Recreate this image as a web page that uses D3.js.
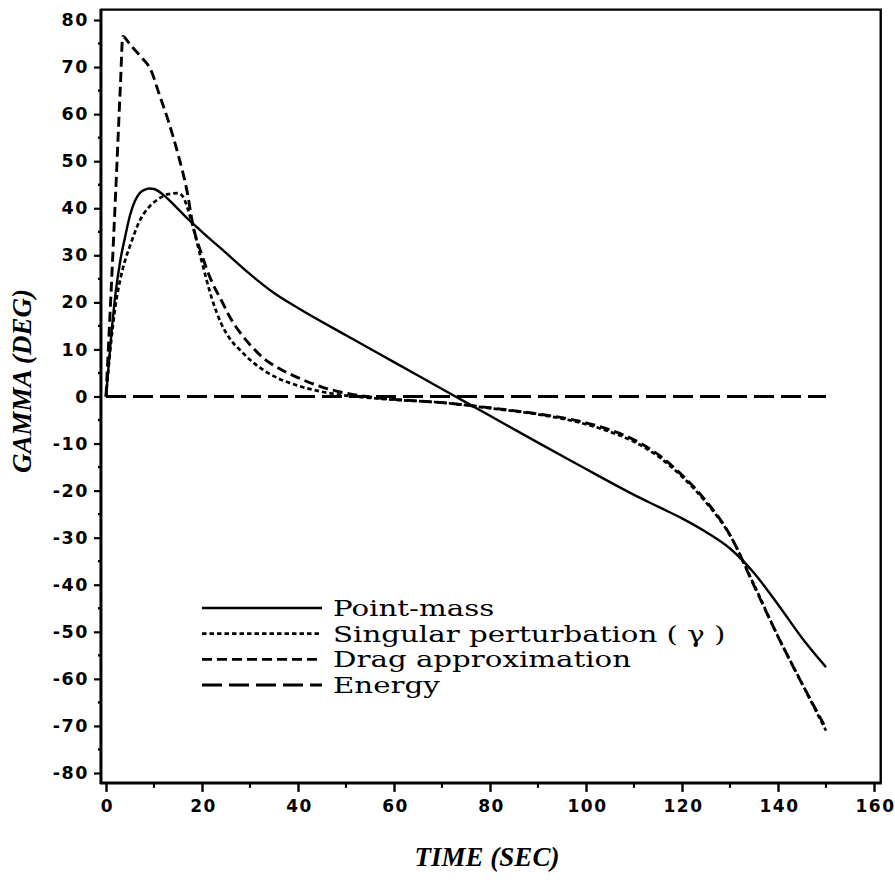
<!DOCTYPE html>
<html>
<head>
<meta charset="utf-8">
<script src="https://cdn.jsdelivr.net/npm/d3@7"></script>
<style>
  html, body { margin: 0; padding: 0; background: #fff; }
  svg { display: block; }
</style>
</head>
<body>
<svg id="chart" width="895" height="886"></svg>
<script>
// Flight-path angle histories, time in seconds, gamma in degrees
const pointMassT = [0, 1, 2, 3, 4, 5, 6, 7, 8, 9, 10, 12, 14, 17, 20, 25, 30, 35, 40, 50, 60, 70, 80, 90, 100, 105, 110, 115, 120, 125, 130, 135, 140, 145, 150];
const pointMassG = [0, 12, 22, 29, 34, 38.5, 41.5, 43.2, 43.9, 44.2, 44.1, 42.8, 40.9, 37.8, 35, 30.5, 26, 22, 18.8, 13, 7.3, 1.6, -4.1, -9.8, -15.4, -18.2, -20.9, -23.4, -25.9, -28.8, -32.3, -37.5, -44.2, -51.3, -57.5];

const singularT = [0, 1, 2, 3, 4, 5, 7, 9, 11, 13, 15, 16, 17, 18, 20, 22, 24, 26, 28, 30, 33, 36, 40, 45, 50, 55, 60, 70, 80, 90, 95, 100, 105, 110, 115, 120, 125, 130, 135, 140, 145, 150];
const singularG = [0, 11, 19.5, 25, 29, 32, 37.3, 40.3, 42, 43, 43.2, 42.5, 40, 36.5, 28.5, 21, 15.5, 12, 9.8, 7.8, 5.5, 3.8, 2.3, 1.0, 0.2, -0.3, -0.7, -1.3, -2.5, -3.8, -4.7, -5.9, -7.5, -9.6, -12.7, -17, -22.5, -29.5, -40, -51, -61, -71];

const dragT = [0, 1, 2, 3, 3.5, 5, 7, 9.5, 11, 13, 15, 17, 18, 20, 22, 24, 26, 28, 30, 33, 36, 40, 45, 50, 55, 60, 70, 80, 90, 95, 100, 105, 110, 115, 120, 125, 130, 135, 140, 145, 150];
const dragG = [0, 21, 43, 66, 76.5, 74.8, 72.5, 69, 64.5, 58.5, 51.5, 43, 37, 30, 24.5, 20.5, 16.5, 13.5, 11, 8, 6, 4, 2, 0.7, -0.1, -0.6, -1.3, -2.4, -3.7, -4.5, -5.6, -7.1, -9.2, -12.3, -16.7, -22.2, -29.4, -40.2, -51, -61, -70.5];

const energyT = [0, 150];
const energyG = [0, 0];

const seriesNames = ["Point-mass", "Singular perturbation ( \u03b3 )", "Drag approximation", "Energy"];

const xTicks = [0, 20, 40, 60, 80, 100, 120, 140, 160];
const yTicks = [80, 70, 60, 50, 40, 30, 20, 10, 0, -10, -20, -30, -40, -50, -60, -70, -80];

const xTitle = "TIME (SEC)";
const yTitle = "GAMMA (DEG)";

// ---------------------------------------------------------------
const svg = d3.select("#chart");

const x = d3.scaleLinear().domain([0, 160]).range([106, 874]);
const y = d3.scaleLinear().domain([-80, 80]).range([773, 20]);

// plot frame, a little wider than the tick range
const fx0 = x(-1.05), fx1 = x(161.4), fy0 = y(82.2), fy1 = y(-82.1);

const styles = [
  { dash: null,      width: 2.4 },
  { dash: "4.5,3",   width: 2.7 },
  { dash: "10,5",    width: 2.9 },
  { dash: "20,7",    width: 2.9 }
];

const zip = (ts, gs) => ts.map((t, i) => ({ t, g: gs[i] }));
const series = [
  zip(pointMassT, pointMassG),
  zip(singularT, singularG),
  zip(dragT, dragG),
  zip(energyT, energyG)
];

// frame (top and right edges)
svg.append("path")
  .attr("d", `M${fx0},${fy0} L${fx1},${fy0} L${fx1},${fy1}`)
  .attr("fill", "none").attr("stroke", "#000").attr("stroke-width", 2.4);

// left axis
const yAxis = d3.axisLeft(y)
  .tickValues(yTicks)
  .tickSize(7)
  .tickPadding(5)
  .tickFormat(d => d === 0 ? "0" : (d < 0 ? "-" + Math.abs(d) : String(d)));
const gy = svg.append("g").attr("transform", `translate(${fx0},0)`).call(yAxis);
gy.select(".domain").remove();
gy.selectAll(".tick line").attr("stroke-width", 2.2);
gy.selectAll(".tick text")
  .attr("font-family", "'DejaVu Sans', sans-serif")
  .attr("font-weight", "bold")
  .attr("font-size", 17.5)
  .attr("fill", "#000")
  .attr("letter-spacing", 1.5);

// minor y ticks
svg.append("g").selectAll("line")
  .data(d3.range(-75, 80, 10))
  .join("line")
  .attr("x1", fx0 - 3).attr("x2", fx0)
  .attr("y1", d => y(d)).attr("y2", d => y(d))
  .attr("stroke", "#000").attr("stroke-width", 2.4);

svg.append("line")
  .attr("x1", fx0).attr("x2", fx0).attr("y1", fy0 - 1).attr("y2", fy1 + 1)
  .attr("stroke", "#000").attr("stroke-width", 3);

// bottom axis
const xAxis = d3.axisBottom(x)
  .tickValues(xTicks)
  .tickSize(9)
  .tickPadding(8)
  .tickFormat(d3.format("d"));
const gx = svg.append("g").attr("transform", `translate(0,${fy1})`).call(xAxis);
gx.select(".domain").remove();
gx.selectAll(".tick line").attr("stroke-width", 2.4);
gx.selectAll(".tick text")
  .attr("font-family", "'DejaVu Sans', sans-serif")
  .attr("font-weight", "bold")
  .attr("font-size", 17)
  .attr("fill", "#000")
  .attr("letter-spacing", 1.5)
  .attr("dx", 1);

svg.append("g").selectAll("line")
  .data(d3.range(10, 160, 20))
  .join("line")
  .attr("x1", d => x(d)).attr("x2", d => x(d))
  .attr("y1", fy1).attr("y2", fy1 + 5)
  .attr("stroke", "#000").attr("stroke-width", 2.2);

svg.append("line")
  .attr("x1", fx0 - 1).attr("x2", fx1 + 1).attr("y1", fy1).attr("y2", fy1)
  .attr("stroke", "#000").attr("stroke-width", 3);

// curves
const line = d3.line()
  .x(d => x(d.t))
  .y(d => y(d.g))
  .curve(d3.curveMonotoneX);

svg.append("g").selectAll("path")
  .data(series)
  .join("path")
  .attr("d", line)
  .attr("fill", "none")
  .attr("stroke", "#000")
  .attr("stroke-width", (d, i) => styles[i].width)
  .attr("stroke-dasharray", (d, i) => styles[i].dash)
  .attr("stroke-linejoin", "round");

// legend: compact serif face, stretched horizontally to a wide schoolbook look
const legend = svg.append("g");
const legendRows = d3.scaleLinear().domain([0, 3]).range([608, 685]);
seriesNames.forEach((name, i) => {
  const yy = legendRows(i);
  legend.append("line")
    .attr("x1", 202).attr("x2", 322)
    .attr("y1", yy).attr("y2", yy)
    .attr("stroke", "#000")
    .attr("stroke-width", styles[i].width)
    .attr("stroke-dasharray", styles[i].dash);
  const t = legend.append("text")
    .attr("x", 333).attr("y", yy + 8)
    .attr("font-family", "'DejaVu Serif', serif")
    .attr("font-size", 22)
    .attr("fill", "#000")
    .text(name);
  const w = t.node().getComputedTextLength();
  t.attr("textLength", w * 1.33).attr("lengthAdjust", "spacingAndGlyphs");
});

// axis titles
svg.append("text")
  .attr("x", 487).attr("y", 866)
  .attr("text-anchor", "middle")
  .attr("font-family", "'Liberation Serif', serif")
  .attr("font-weight", "bold")
  .attr("font-style", "italic")
  .attr("font-size", 27)
  .attr("fill", "#000")
  .text(xTitle);

svg.append("text")
  .attr("transform", "translate(31,381) rotate(-90)")
  .attr("text-anchor", "middle")
  .attr("font-family", "'Liberation Serif', serif")
  .attr("font-weight", "bold")
  .attr("font-style", "italic")
  .attr("font-size", 27)
  .attr("fill", "#000")
  .text(yTitle);
</script>
</body>
</html>
